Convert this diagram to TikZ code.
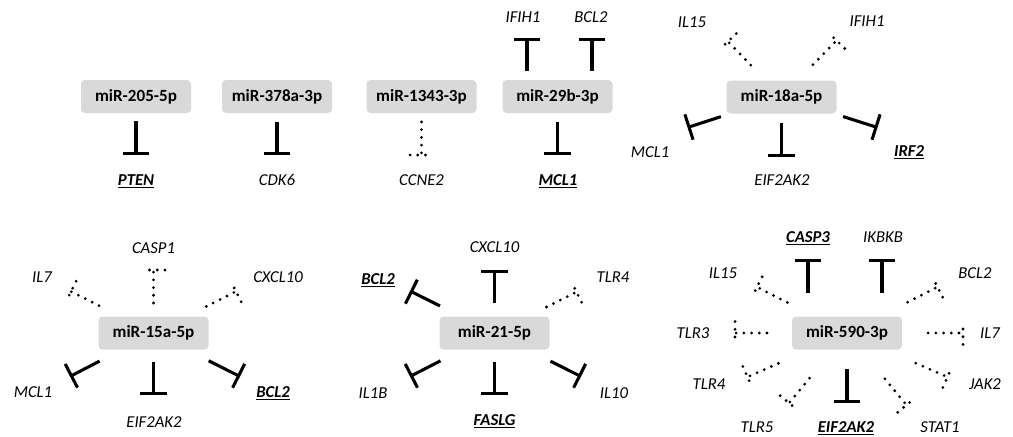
\documentclass[tikz,border=0pt]{standalone}
\usepackage{fontspec}
\setmainfont{Carlito}
\usetikzlibrary{arrows.meta,calc}
\definecolor{boxgray}{HTML}{D9D9D9}
% perpendicular dotted bar at the end of a dotted connector
\newcommand{\dotbar}[2]{\draw[dotline] ($(#1)!8.6pt!90:(#2)$) -- ($(#1)!8.6pt!-90:(#2)$);}

\begin{document}
\begin{tikzpicture}[x=0.75pt, y=-0.75pt]
	\tikzset{mir/.style={fill=boxgray, rounded corners=3pt, minimum width=82.5pt, minimum height=24.75pt, inner sep=0pt, font=\fontsize{12.8}{15}\selectfont\bfseries},
		gene/.style={inner sep=0pt, text depth=0pt, font=\fontsize{12.5}{15}\selectfont\itshape},
		keygene/.style={gene, font=\fontsize{12.5}{15}\selectfont\bfseries\itshape},
		inh/.style={line width=2.3pt, -{Bar[width=20pt]}, shorten <=#1},
		dotline/.style={line width=2.3pt, line cap=round, dash pattern=on 0pt off 5.8pt},
		pinh/.style={dotline, shorten <=#1}}
	\useasboundingbox (0,0) rectangle (1013,436);

	% miR-205-5p
	\node[mir] (m205) at (136,96.5) {miR-205-5p};
	\node[keygene] (a-pten) at (136,180) {\underline{PTEN}};
	\coordinate (a-pten-b) at (136,155);
	\draw[inh=18.4pt] (m205.center) -- (a-pten-b);

	% miR-378a-3p
	\node[mir] (m378) at (277,96.5) {miR-378a-3p};
	\node[gene] (b-cdk6) at (277,180) {CDK6};
	\coordinate (b-cdk6-b) at (277,155);
	\draw[inh=19.1pt] (m378.center) -- (b-cdk6-b);

	% miR-1343-3p
	\node[mir] (m1343) at (421.5,96.5) {miR-1343-3p};
	\node[gene] (c-ccne2) at (421.5,180) {CCNE2};
	\coordinate (c-ccne2-b) at (421.5,155);
	\draw[pinh=19.1pt] (m1343.center) -- (c-ccne2-b); \dotbar{c-ccne2-b}{m1343}

	% miR-29b-3p
	\node[mir] (m29b) at (557.5,96.5) {miR-29b-3p};
	\node[gene] (d-ifih1) at (523,17) {IFIH1};
	\node[gene] (d-bcl2) at (591,17) {BCL2};
	\node[keygene] (d-mcl1) at (558,180) {\underline{MCL1}};
	\coordinate (d-ifih1-b) at (527,38);
	\coordinate (d-bcl2-b) at (592,38);
	\coordinate (d-mcl1-b) at (557.5,155);
	\draw[inh=6.75pt] (d-ifih1-b |- m29b.north) -- (d-ifih1-b);
	\draw[inh=6.75pt] (d-bcl2-b |- m29b.north) -- (d-bcl2-b);
	\draw[inh=19.1pt] (m29b.center) -- (d-mcl1-b);

	% miR-18a-5p
	\node[mir] (m18a) at (781.5,97) {miR-18a-5p};
	\node[gene] (e-il15) at (692,22) {IL15};
	\node[gene] (e-ifih1) at (867,21) {IFIH1};
	\node[gene] (e-mcl1) at (650,152) {MCL1};
	\node[keygene] (e-irf2) at (909,151) {\underline{IRF2}};
	\node[gene] (e-eif) at (782,180) {EIF2AK2};
	\coordinate (e-il15-b) at (728,41.5);
	\coordinate (e-ifih1-b) at (836.5,40.5);
	\coordinate (e-mcl1-b) at (687.5,127.5);
	\coordinate (e-irf2-b) at (877.5,127.5);
	\coordinate (e-eif-b) at (781.5,157);
	\draw[pinh=33.2pt] (m18a.center) -- (e-il15-b); \dotbar{e-il15-b}{m18a}
	\draw[pinh=33.8pt] (m18a.center) -- (e-ifih1-b); \dotbar{e-ifih1-b}{m18a}
	\draw[inh=47.8pt] (m18a.center) -- (e-mcl1-b);
	\draw[inh=48.5pt] (m18a.center) -- (e-irf2-b);
	\draw[inh=19.5pt] (m18a.center) -- (e-eif-b);

	% miR-15a-5p
	\node[mir] (m15a) at (153.5,333) {miR-15a-5p};
	\node[gene] (f-il7) at (42,277) {IL7};
	\node[gene] (f-casp1) at (153.5,248) {CASP1};
	\node[gene] (f-cxcl10) at (278,277) {CXCL10};
	\node[gene] (f-mcl1) at (33,392) {MCL1};
	\node[gene] (f-eif) at (154,422) {EIF2AK2};
	\node[keygene] (f-bcl2) at (273,392) {\underline{BCL2}};
	\coordinate (f-il7-b) at (71,291.5);
	\coordinate (f-casp1-b) at (153.5,270);
	\coordinate (f-cxcl10-b) at (236,291.5);
	\coordinate (f-mcl1-b) at (70,376.5);
	\coordinate (f-eif-b) at (153.5,395);
	\coordinate (f-bcl2-b) at (240,376.5);
	\draw[pinh=45.7pt] (m15a.center) -- (f-il7-b); \dotbar{f-il7-b}{m15a}
	\draw[pinh=22.5pt] (m15a.center) -- (f-casp1-b); \dotbar{f-casp1-b}{m15a}
	\draw[pinh=44.3pt] (m15a.center) -- (f-cxcl10-b); \dotbar{f-cxcl10-b}{m15a}
	\draw[inh=45.6pt] (m15a.center) -- (f-mcl1-b);
	\draw[inh=21.8pt] (m15a.center) -- (f-eif-b);
	\draw[inh=46.3pt] (m15a.center) -- (f-bcl2-b);

	% miR-21-5p
	\node[mir] (m21) at (494.5,333) {miR-21-5p};
	\node[keygene] (g-bcl2) at (378,279) {\underline{BCL2}};
	\node[gene] (g-cxcl10) at (494.5,247) {CXCL10};
	\node[gene] (g-tlr4) at (613,277) {TLR4};
	\node[gene] (g-il1b) at (373,393) {IL1B};
	\node[keygene] (g-faslg) at (494.5,420) {\underline{FASLG}};
	\node[gene] (g-il10) at (614,393) {IL10};
	\coordinate (g-bcl2-b) at (410,291);
	\coordinate (g-cxcl10-b) at (494.5,270);
	\coordinate (g-tlr4-b) at (576.5,292);
	\coordinate (g-il1b-b) at (410,376.5);
	\coordinate (g-faslg-b) at (494.5,395);
	\coordinate (g-il10-b) at (581,376.5);
	\draw[inh=45.7pt] (m21.center) -- (g-bcl2-b);
	\draw[inh=22.5pt] (m21.center) -- (g-cxcl10-b);
	\draw[pinh=43.6pt] (m21.center) -- (g-tlr4-b); \dotbar{g-tlr4-b}{m21}
	\draw[inh=45.6pt] (m21.center) -- (g-il1b-b);
	\draw[inh=21.8pt] (m21.center) -- (g-faslg-b);
	\draw[inh=47pt] (m21.center) -- (g-il10-b);

	% miR-590-3p
	\node[mir] (m590) at (847,333) {miR-590-3p};
	\node[keygene] (h-casp3) at (808,237) {\underline{CASP3}};
	\node[gene] (h-ikbkb) at (883,237) {IKBKB};
	\node[gene] (h-il15) at (723,273) {IL15};
	\node[gene] (h-bcl2) at (975,273) {BCL2};
	\node[gene] (h-tlr3) at (693,333) {TLR3};
	\node[gene] (h-il7) at (990,333) {IL7};
	\node[gene] (h-tlr4) at (709,384) {TLR4};
	\node[gene] (h-jak2) at (985,384) {JAK2};
	\node[gene] (h-tlr5) at (757,427) {TLR5};
	\node[keygene] (h-eif) at (846,427) {\underline{EIF2AK2}};
	\node[gene] (h-stat1) at (940,427) {STAT1};
	\coordinate (h-casp3-b) at (808,259);
	\coordinate (h-ikbkb-b) at (882,259);
	\coordinate (h-il15-b) at (757,287);
	\coordinate (h-bcl2-b) at (937.5,287);
	\coordinate (h-tlr3-b) at (735,333);
	\coordinate (h-il7-b) at (963,333);
	\coordinate (h-tlr4-b) at (747.5,377);
	\coordinate (h-jak2-b) at (947.5,377);
	\coordinate (h-tlr5-b) at (789,403);
	\coordinate (h-eif-b) at (847,403);
	\coordinate (h-stat1-b) at (906.5,405);
	\draw[inh=17.3pt] (h-casp3-b |- m590.north) -- (h-casp3-b);
	\draw[inh=17.3pt] (h-ikbkb-b |- m590.north) -- (h-ikbkb-b);
	\draw[pinh=50.3pt] (m590.center) -- (h-il15-b); \dotbar{h-il15-b}{m590}
	\draw[pinh=51pt] (m590.center) -- (h-bcl2-b); \dotbar{h-bcl2-b}{m590}
	\draw[pinh=60pt] (m590.center) -- (h-tlr3-b); \dotbar{h-tlr3-b}{m590}
	\draw[pinh=60.8pt] (m590.center) -- (h-il7-b); \dotbar{h-il7-b}{m590}
	\draw[pinh=56.3pt] (m590.center) -- (h-tlr4-b); \dotbar{h-tlr4-b}{m590}
	\draw[pinh=56.3pt] (m590.center) -- (h-jak2-b); \dotbar{h-jak2-b}{m590}
	\draw[pinh=44pt] (m590.center) -- (h-tlr5-b); \dotbar{h-tlr5-b}{m590}
	\draw[inh=27pt] (m590.center) -- (h-eif-b);
	\draw[pinh=44.6pt] (m590.center) -- (h-stat1-b); \dotbar{h-stat1-b}{m590}
\end{tikzpicture}
\end{document}
